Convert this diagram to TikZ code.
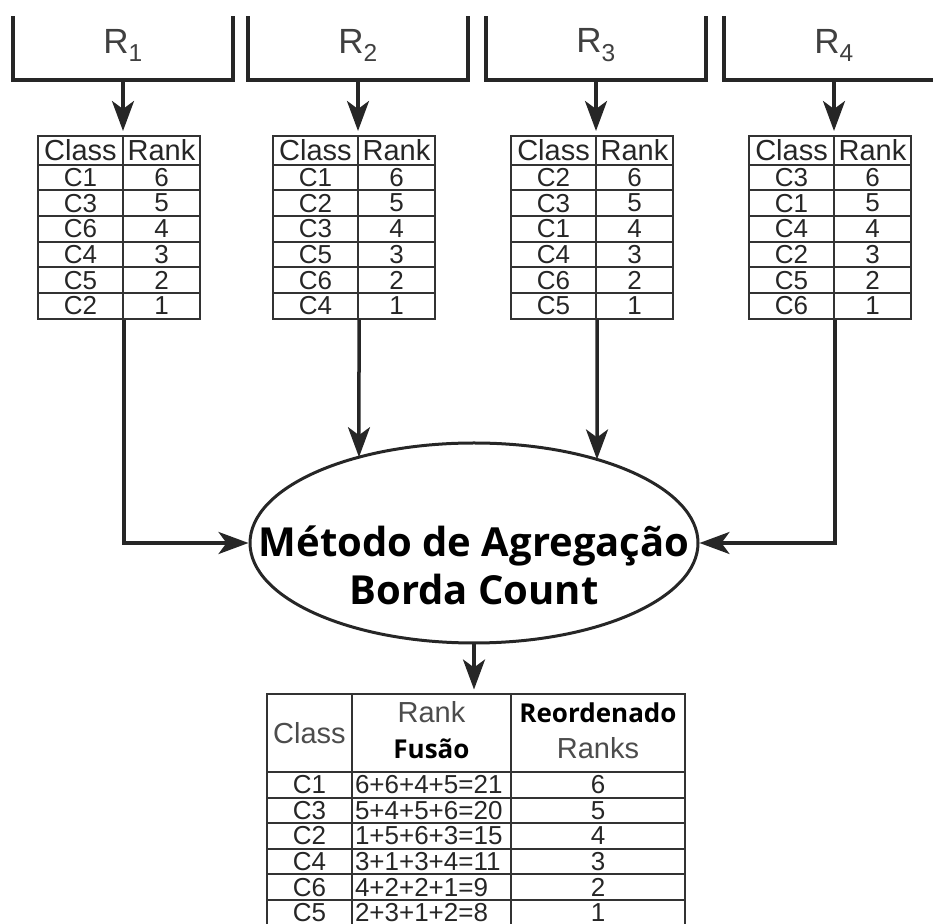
\documentclass[tikz,border=0pt]{standalone}
\usepackage{fontspec}
\setmainfont{Liberation Sans}
\newfontfamily\headfont{Open Sans}
\usetikzlibrary{shapes.geometric,arrows.meta,matrix,positioning,intersections}

\newcommand{\boldhead}[1]{{\headfont\bfseries\fontsize{26}{36}\selectfont\color{black}#1}}
\newcommand{\stackhead}[2]{\begin{tabular}{@{}c@{}}#1\\#2\end{tabular}}

\begin{document}
\begin{tikzpicture}[x=1pt,y=1pt,>={Stealth[length=30pt,width=22pt,inset=8pt]},
 rbox/.style={draw=black!85,line width=3.5pt,minimum width=220pt,minimum height=70pt,anchor=south,text=black!75,font=\fontsize{35}{36}\selectfont},
 rtab/.style={matrix of nodes,column sep=-2pt,row sep=-2pt,
   nodes={draw=black!80,line width=2pt,inner sep=0pt,anchor=center,minimum height=25.7pt,text=black!85,font=\fontsize{26}{26}\selectfont},
   column 1/.style={nodes={minimum width=85pt}},
   column 2/.style={nodes={minimum width=77pt}},
   row 1/.style={nodes={minimum height=29pt,font=\fontsize{29}{29}\selectfont}}},
 ftab/.style={matrix of nodes,column sep=-2pt,row sep=-2pt,
   nodes={draw=black!80,line width=2pt,inner sep=0pt,anchor=center,minimum height=25.6pt,text=black!85,font=\fontsize{26}{26}\selectfont},
   column 1/.style={nodes={minimum width=85pt}},
   column 2/.style={nodes={text width=153pt,inner xsep=3pt,align=left}},
   column 3/.style={nodes={minimum width=174pt}},
   row 1/.style={nodes={minimum height=78pt,text=black!70,font=\fontsize{29}{36}\selectfont}}},
 agg/.style={draw=black!85,line width=3pt,ellipse,minimum width=448pt,minimum height=200pt},
 arr/.style={->,draw=black!85,line width=3.5pt}]
\useasboundingbox (0,0) rectangle (933,923);
\clip (0,0) rectangle (933,906);

% the four rankings
\foreach \i/\x in {1/123,2/358,3/596,4/834}
  \node[rbox] (R\i) at (\x,841) {R\textsubscript{\i}};

\matrix[rtab,below=49pt of R1.south,xshift=-4pt] (t1) {
Class & Rank \\
C1 & 6 \\
C3 & 5 \\
C6 & 4 \\
C4 & 3 \\
C5 & 2 \\
C2 & 1 \\
};
\matrix[rtab,below=49pt of R2.south,xshift=-4pt] (t2) {
Class & Rank \\
C1 & 6 \\
C2 & 5 \\
C3 & 4 \\
C5 & 3 \\
C6 & 2 \\
C4 & 1 \\
};
\matrix[rtab,below=49pt of R3.south,xshift=-4pt] (t3) {
Class & Rank \\
C2 & 6 \\
C3 & 5 \\
C1 & 4 \\
C4 & 3 \\
C6 & 2 \\
C5 & 1 \\
};
\matrix[rtab,below=49pt of R4.south,xshift=-4pt] (t4) {
Class & Rank \\
C3 & 6 \\
C1 & 5 \\
C4 & 4 \\
C2 & 3 \\
C5 & 2 \\
C6 & 1 \\
};
\foreach \i in {1,...,4}
  \draw[arr] (R\i.south) -- (R\i.south |- t\i.north);

% aggregation
\node[agg,name path=aggp] (agg) at (474,380) {};
\node[font=\headfont\bfseries\fontsize{40}{48}\selectfont,align=center] (aggtxt) at (474,358) {Método de Agregação\\Borda Count};

\draw[arr] (t1-7-1.south east) |- (agg.west);
\draw[arr] (t4-7-1.south east) |- (agg.east);
\foreach \i in {2,3} {
  \path[name path=drop] (t\i-7-1.south east) -- ++(0,-200);
  \draw[arr,name intersections={of=drop and aggp}] (t\i-7-1.south east) -- (intersection-1);
}

% fused ranking
\matrix[ftab,below=45pt of agg,xshift=2pt] (fus) {
Class & |[align=center]| \stackhead{Rank}{\boldhead{Fusão}} & \stackhead{\boldhead{Reordenado}}{Ranks} \\
C1 & 6+6+4+5=21 & 6 \\
C3 & 5+4+5+6=20 & 5 \\
C2 & 1+5+6+3=15 & 4 \\
C4 & 3+1+3+4=11 & 3 \\
C6 & 4+2+2+1=9 & 2 \\
C5 & 2+3+1+2=8 & 1 \\
};
\draw[arr] (agg.south) -- (agg.south |- fus.north);
\end{tikzpicture}
\end{document}
